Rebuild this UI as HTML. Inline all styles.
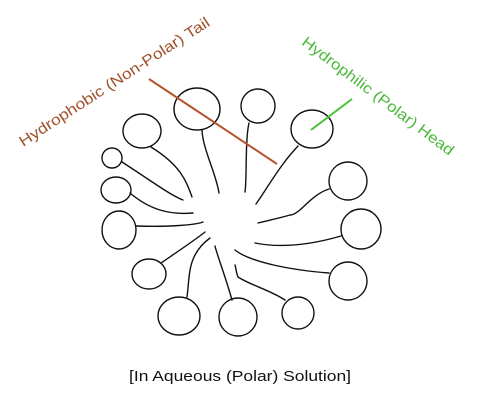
<!DOCTYPE html>
<html><head><style>html,body{margin:0;padding:0;background:#fff;}svg{display:block}</style></head>
<body>
<svg width="481" height="404" viewBox="0 0 481 404" xmlns="http://www.w3.org/2000/svg">
<g fill="none" stroke="#111" stroke-width="1.4" stroke-linecap="round">
<ellipse cx="197" cy="109" rx="23" ry="21"/>
<ellipse cx="258" cy="106" rx="17" ry="17"/>
<ellipse cx="142" cy="131" rx="19" ry="17"/>
<ellipse cx="312" cy="129" rx="21" ry="19"/>
<ellipse cx="112" cy="158" rx="10" ry="10"/>
<ellipse cx="116" cy="190" rx="15" ry="13"/>
<ellipse cx="348" cy="181" rx="19" ry="19"/>
<ellipse cx="119" cy="230" rx="17" ry="19"/>
<ellipse cx="361" cy="229" rx="20" ry="20"/>
<ellipse cx="149" cy="274" rx="17" ry="15"/>
<ellipse cx="348" cy="281" rx="19" ry="19"/>
<ellipse cx="179" cy="316" rx="21" ry="19"/>
<ellipse cx="238" cy="317" rx="19" ry="19"/>
<ellipse cx="298" cy="313" rx="16" ry="16"/>
<path d="M202 130 C203 150 216 173 219 193"/>
<path d="M249 123 C245 140 247 180 245 192"/>
<path d="M151 147 C180 165 186 180 192 197"/>
<path d="M298 146 C280 165 268 187 256 204"/>
<path d="M122 162 C150 180 170 195 183 200"/>
<path d="M130 193 C150 210 170 215 193 213"/>
<path d="M136 226 C170 227 195 225 203 222"/>
<path d="M161 263 C180 250 195 240 205 232"/>
<path d="M187 297 C190 275 187 255 210 238"/>
<path d="M232 300 C225 275 217 255 215 246"/>
<path d="M285 300 C270 290 250 285 238 277 C236 272 236 268 235 265"/>
<path d="M329 273 C290 270 250 262 235 250"/>
<path d="M341 236 C310 245 280 248 255 243"/>
<path d="M329 189 C310 195 300 215 290 215 C280 218 270 220 258 223"/>
</g>
<line x1="149" y1="79" x2="277" y2="164" stroke="#b5532a" stroke-width="2"/>
<line x1="311" y1="130" x2="352" y2="99" stroke="#4cc23a" stroke-width="2"/>
<g font-family="Liberation Sans, sans-serif" font-size="15">
<text transform="translate(117,86) rotate(-33)" text-anchor="middle" fill="#a0522d" textLength="224" lengthAdjust="spacingAndGlyphs">Hydrophobic (Non-Polar) Tail</text>
<text transform="translate(375,100) rotate(37)" text-anchor="middle" fill="#4cb83c" textLength="186" lengthAdjust="spacingAndGlyphs">Hydrophilic (Polar) Head</text>
<text x="240" y="381" text-anchor="middle" fill="#111" textLength="222" lengthAdjust="spacingAndGlyphs">[In Aqueous (Polar) Solution]</text>
</g>
</svg>
</body></html>
